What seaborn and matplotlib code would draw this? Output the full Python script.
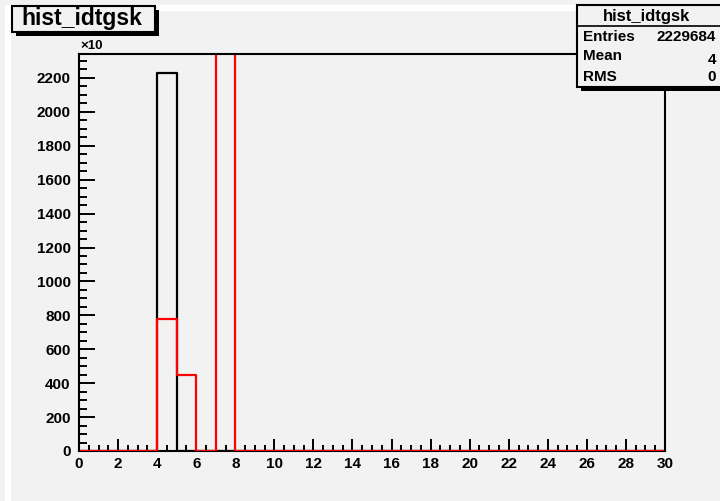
import numpy as np
import pandas as pd
import matplotlib
matplotlib.use("Agg")
import matplotlib.pyplot as plt
from matplotlib.patches import Rectangle
from matplotlib.lines import Line2D
from matplotlib.ticker import MultipleLocator
import seaborn as sns

# Histogram contents (bin low edge -> content, in units of 10^3)
bin_edges = list(range(0, 31))
black_bins = [4]
black_vals = [2229.684]
red_bins = [4, 5, 7]
red_vals = [779.0, 447.0, 3500.0]

stats_title = "hist_idtgsk"
stats_labels = ["Entries", "Mean", "RMS"]
stats_values = ["2229684", "4", "0"]

x_ticks = list(range(0, 31, 2))
y_ticks = list(range(0, 2201, 200))

sns.set_theme(style="white")
plt.rcParams["font.family"] = ["Liberation Sans", "DejaVu Sans"]
plt.rcParams["font.weight"] = "bold"
plt.rcParams["text.color"] = "black"
plt.rcParams["axes.labelcolor"] = "black"
plt.rcParams["xtick.color"] = "black"
plt.rcParams["ytick.color"] = "black"

BG = "#f2f2f2"
W, H = 720, 501

fig = plt.figure(figsize=(W / 100, H / 100), dpi=100, facecolor=BG)


def fx(px):
    return px / W


def fy(py):
    return 1 - py / H


ax = fig.add_axes([fx(79), fy(451), fx(665) - fx(79), fy(54) - fy(451)])
ax.set_facecolor(BG)


def to_frame(bins, vals):
    centers = [b + 0.5 for b in bins]
    return pd.DataFrame({"x": centers, "w": vals})


black_df = to_frame(black_bins, black_vals)
red_df = to_frame(red_bins, red_vals)

# pad the frames with empty bins at both ends so the outline runs along zero
pad = pd.DataFrame({"x": [0.5, 29.5], "w": [0.0, 0.0]})
black_df = pd.concat([black_df, pad], ignore_index=True)
red_df = pd.concat([red_df, pad], ignore_index=True)

sns.histplot(data=black_df, x="x", weights="w", bins=bin_edges, element="step",
             fill=False, color="black", linewidth=1.6, ax=ax)
sns.histplot(data=red_df, x="x", weights="w", bins=bin_edges, element="step",
             fill=False, color="#ff0000", linewidth=1.6, ax=ax)

ymax = max(black_vals) * 1.05
ax.set_xlim(0, 30)
ax.set_ylim(0, ymax)
ax.set_xlabel("")
ax.set_ylabel("")

ax.xaxis.set_major_locator(MultipleLocator(2))
ax.xaxis.set_minor_locator(MultipleLocator(0.5))
ax.yaxis.set_major_locator(MultipleLocator(200))
ax.yaxis.set_minor_locator(MultipleLocator(50))
ax.set_xticks(x_ticks)
ax.set_xticklabels([str(v) for v in x_ticks])
ax.set_yticks(y_ticks)
ax.set_yticklabels([str(v) for v in y_ticks])

ax.tick_params(axis="x", which="major", direction="in", length=8.6, width=1.4,
               pad=4, labelsize=11, colors="black", bottom=True, top=False)
ax.tick_params(axis="x", which="minor", direction="in", length=4.3, width=1.4,
               bottom=True, top=False)
ax.tick_params(axis="y", which="major", direction="in", length=11.5, width=1.4,
               pad=6, labelsize=11, colors="black", left=True, right=False)
ax.tick_params(axis="y", which="minor", direction="in", length=5.8, width=1.4,
               left=True, right=False)
for lab in ax.get_xticklabels() + ax.get_yticklabels():
    lab.set_fontweight("bold")
    lab.set_color("black")

for side in ["left", "right", "top", "bottom"]:
    ax.spines[side].set_visible(True)
    ax.spines[side].set_color("black")
    ax.spines[side].set_linewidth(1.5)
ax.spines["bottom"].set_zorder(0.5)

# exponent label above the y axis
fig.text(fx(80), fy(46), "\u00d710", fontsize=9.5, fontweight="bold",
         ha="left", va="center", color="black")

# canvas bevel highlight
fig.add_artist(Line2D([fx(8), fx(8)], [fy(8), fy(501)], color="white", lw=4.5,
                      transform=fig.transFigure))
fig.add_artist(Line2D([fx(8), fx(720)], [fy(8), fy(8)], color="white", lw=4.5,
                      transform=fig.transFigure))


def box(x0, y0, x1, y1, shadow=4):
    fig.add_artist(Rectangle((fx(x0 + shadow), fy(y1 + shadow)),
                             fx(x1 - x0), fy(y0) - fy(y1),
                             transform=fig.transFigure, facecolor="black",
                             edgecolor="none", zorder=10))
    fig.add_artist(Rectangle((fx(x0), fy(y1)), fx(x1 - x0), fy(y0) - fy(y1),
                             transform=fig.transFigure, facecolor=BG,
                             edgecolor="black", linewidth=1.5, zorder=11))


# title box
box(12, 6, 155, 32)
fig.text(fx(82), fy(19), stats_title, fontsize=16.5, fontweight="bold",
         ha="center", va="center", color="black", zorder=12)

# statistics box
box(577, 5, 724, 87)
fig.text(fx(646), fy(16), stats_title, fontsize=12, fontweight="bold",
         ha="center", va="center", color="black", zorder=12)
fig.add_artist(Line2D([fx(577), fx(720)], [fy(26), fy(26)], color="black",
                      lw=1.2, transform=fig.transFigure, zorder=12))
label_y = [37, 56, 77]
value_y = [37, 60, 77]
for lab, val, ly, vy in zip(stats_labels, stats_values, label_y, value_y):
    fig.text(fx(583), fy(ly), lab, fontsize=11, fontweight="bold",
             ha="left", va="center", color="black", zorder=12)
    fig.text(fx(716), fy(vy), val, fontsize=11, fontweight="bold",
             ha="right", va="center", color="black", zorder=12)

fig.savefig("out.png", dpi=100, facecolor=BG)
